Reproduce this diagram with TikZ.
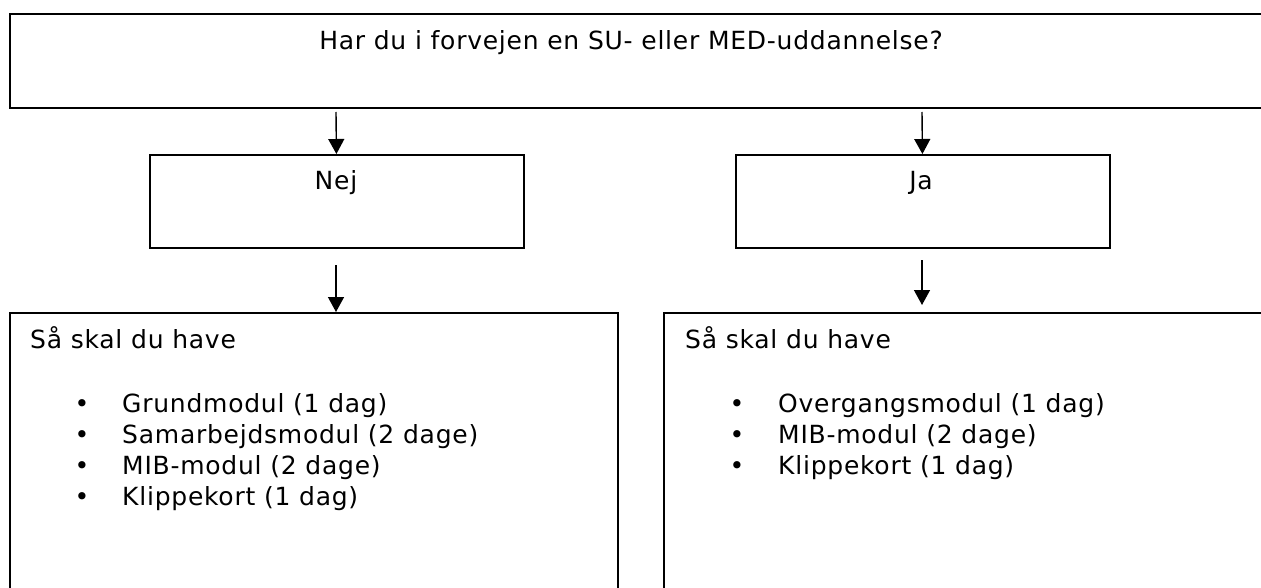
\documentclass[tikz,border=0pt]{standalone}
\usepackage{fontspec}
\setmainfont{DejaVu Sans}[LetterSpace=3]
\usetikzlibrary{arrows.meta}
\tikzset{txt/.style={font=\fontsize{25}{30}\selectfont, inner sep=0pt}}
\begin{document}
\begin{tikzpicture}[x=1pt,y=-1pt]
  \useasboundingbox (0,0) rectangle (1261,588);
  \clip (0,0) rectangle (1261,588);
  \begin{scope}[every node/.style={draw=black, line width=1.8pt, rectangle, anchor=north west, inner sep=0pt}]
    \node[line width=2.2pt, minimum width=1266pt, minimum height=94pt] (q) at (9,13) {};
    \node[minimum width=374pt, minimum height=93pt] (nej) at (149,154) {};
    \node[minimum width=374pt, minimum height=93pt] (ja) at (735,154) {};
    \node[minimum width=608pt, minimum height=300pt] (nejlist) at (9,312) {};
    \node[minimum width=612pt, minimum height=300pt] (jalist) at (663,312) {};
  \end{scope}
  \coordinate (s1) at (336,112);
  \coordinate (s2) at (922,112);
  \coordinate (s3) at (336,265);
  \coordinate (s4) at (922,260);
  \coordinate (e4) at (922,305);
  \begin{scope}[every edge/.style={draw=black, line width=1.4pt, -{Triangle[width=16pt,length=15pt]}}]
    \path (s1) edge (nej);
    \path (s2) edge (ja);
    \path (s3) edge (s3 |- nejlist.north);
    \path (s4) edge (e4);
  \end{scope}
  \node[txt, anchor=base] (qtext) at (631,50) {Har du i forvejen en SU- eller MED-uddannelse?};
  \node[txt, anchor=base] (nejtext) at (336,190) {Nej};
  \node[txt, anchor=base] (jatext) at (921,190) {Ja};
  \node[txt, anchor=base west] (nejhead) at (30,348) {Så skal du have};
  \node[txt, anchor=base west] (jahead) at (685,348) {Så skal du have};
  \foreach \t [count=\i] in {{Grundmodul (1 dag)}, {Samarbejdsmodul (2 dage)}, {MIB-modul (2 dage)}, {Klippekort (1 dag)}} {
    \node[txt, anchor=base] (nejb\i) at (82,381+31*\i) {•};
    \node[txt, anchor=base west] (neji\i) at (122,381+31*\i) {\t};
  }
  \foreach \t [count=\i] in {{Overgangsmodul (1 dag)}, {MIB-modul (2 dage)}, {Klippekort (1 dag)}} {
    \node[txt, anchor=base] (jab\i) at (737,381+31*\i) {•};
    \node[txt, anchor=base west] (jai\i) at (778,381+31*\i) {\t};
  }
\end{tikzpicture}
\end{document}
